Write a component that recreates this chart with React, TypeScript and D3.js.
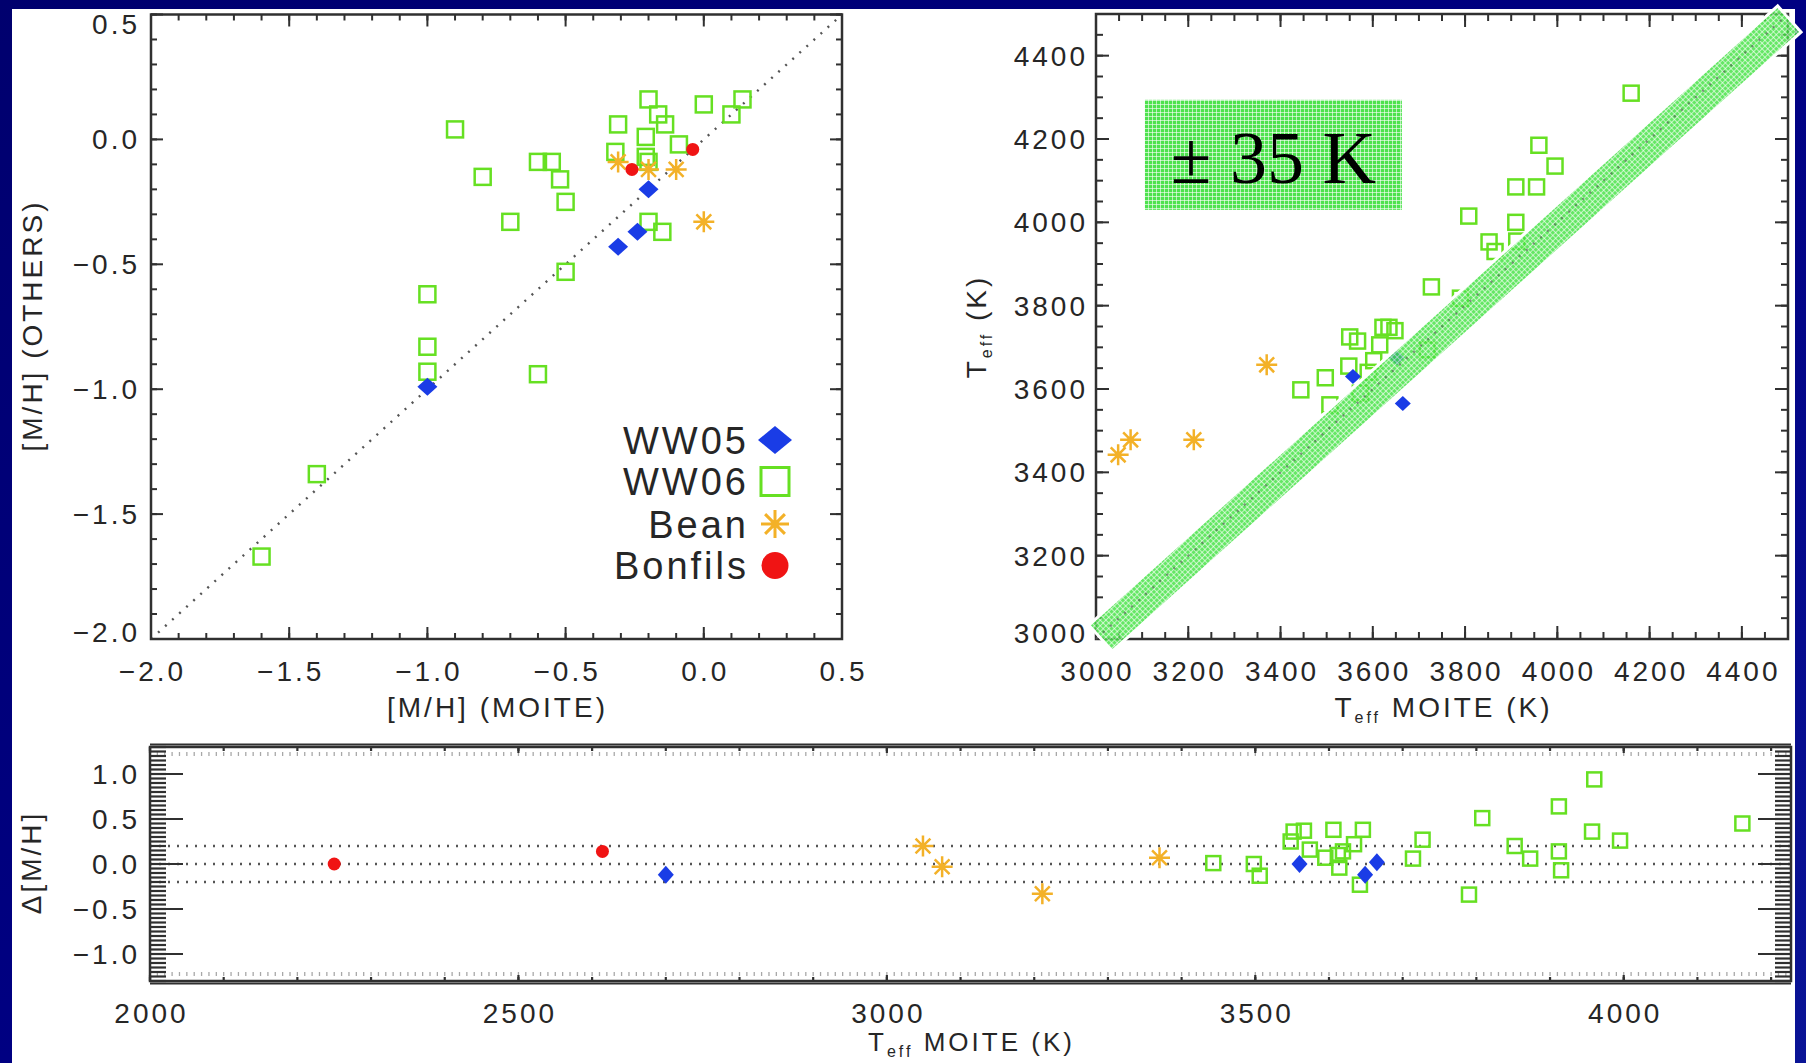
import React from 'react';
import * as d3 from 'd3';

// ---------------- DATA ----------------
// Panel 1: [M/H] MOITE vs [M/H] OTHERS
const mhWW05 = [[-1.0, -0.99], [-0.31, -0.43], [-0.24, -0.37], [-0.2, -0.2]];
const mhWW06 = [
  [-0.9, 0.04], [-0.8, -0.15], [-0.6, -0.09], [-0.55, -0.09], [-0.52, -0.16], [-0.5, -0.25],
  [-0.7, -0.33], [-0.5, -0.53], [-1.0, -0.62], [-1.0, -0.83], [-1.0, -0.93], [-0.6, -0.94],
  [-0.31, 0.06], [-0.2, 0.16], [-0.165, 0.1], [-0.14, 0.06], [-0.21, 0.01], [-0.32, -0.05],
  [-0.21, -0.07], [-0.2, -0.09], [-0.09, -0.02], [0.0, 0.14], [0.1, 0.1], [0.14, 0.16],
  [-0.2, -0.33], [-0.15, -0.37], [-1.4, -1.34], [-1.6, -1.67],
];
const mhBean = [[-0.31, -0.09], [-0.2, -0.12], [-0.1, -0.12], [0.0, -0.33]];
const mhBonfils = [[-0.26, -0.12], [-0.04, -0.04]];

// Panel 2: Teff MOITE vs Teff others
const tWW05 = [[3557, 3630], [3652, 3675], [3665, 3565]];
const tWW06 = [
  [4160, 4310], [3960, 4185], [3995, 4135], [3910, 4085], [3955, 4085], [3808, 4015],
  [3910, 4000], [3852, 3953], [3865, 3930], [3912, 3955], [3727, 3845], [3790, 3818],
  [3550, 3725], [3567, 3715], [3622, 3748], [3635, 3748], [3648, 3740], [3615, 3706],
  [3718, 3694], [3548, 3655], [3602, 3668], [3497, 3627], [3444, 3598], [3507, 3562],
  [3573, 3590], [3590, 3640],
];
const tBean = [[3048, 3442], [3075, 3478], [3212, 3478], [3370, 3658]];
const tBandEnds = [[3010, 3002], [4503, 4488]];
const tBoxCorners = [[3106, 4294], [3663, 4030]];
const tBoxText = '± 35 K';

// Panel 3: Teff MOITE vs Delta [M/H]
const dWW05 = [[2700, -0.12], [3560, 0.0], [3649, -0.12], [3665, 0.02]];
const dWW06 = [
  [3443, 0.01], [3498, 0.0], [3506, -0.13], [3548, 0.25], [3552, 0.36], [3566, 0.37],
  [3574, 0.16], [3595, 0.07], [3606, 0.38], [3614, -0.04], [3619, 0.14], [3612, 0.1],
  [3634, 0.22], [3646, 0.38], [3642, -0.23], [3714, 0.06], [3727, 0.27], [3808, 0.51],
  [3790, -0.34], [3852, 0.2], [3873, 0.06], [3912, 0.64], [3912, 0.14], [3915, -0.07],
  [3960, 0.94], [3957, 0.36], [3995, 0.26], [4161, 0.45],
];
const dBean = [[3049, 0.2], [3075, -0.03], [3211, -0.33], [3370, 0.07]];
const dBonfils = [[2250, 0.0], [2614, 0.14]];
const dRefLines = [0.2, 0.0, -0.2];

const legendNames = ['WW05', 'WW06', 'Bean', 'Bonfils'];

// tick definitions
const p1Major = [-2.0, -1.5, -1.0, -0.5, 0.0, 0.5];
const p1Minor = d3.range(0, 26).map((i) => -2 + i * 0.1);
const p2Major = [3000, 3200, 3400, 3600, 3800, 4000, 4200, 4400];
const p2Minor = d3.range(0, 31).map((i) => 3000 + i * 50);
const p3XMajor = [2000, 2500, 3000, 3500, 4000];
const p3XMinor = d3.range(0, 23).map((i) => 2000 + i * 100);
const p3XFine = d3.range(0, 223).map((i) => 2000 + i * 10);
const p3YMajor = [-1.0, -0.5, 0.0, 0.5, 1.0];
const p3YMinor = d3.range(0, 53).map((i) => -1.3 + i * 0.05);

// ---------------- STYLE ----------------
const W = 1806;
const H = 1063;
const FONT = "'Liberation Sans', Arial, Helvetica, sans-serif";
const TXT = '#262626';
const AX = '#303030';
const C_BLUE = '#1a3ce6';
const C_GREEN = '#66e022';
const C_ORANGE = '#f3b128';
const C_RED = '#f01414';
const TS = 28; // tick font size
const TLS = 3; // tick letter spacing

const fmt1 = (v: number) => {
  const s = Math.abs(v).toFixed(1);
  return v < -1e-9 ? '\u2212' + s : s;
};

function Txt({ x, y, text, anchor = 'middle', size = TS, ls = TLS, rotate = 0, children }: any) {
  const shift = anchor === 'end' ? ls : anchor === 'middle' ? ls / 2 : 0;
  const t = rotate ? `rotate(${rotate},${x},${y})` : undefined;
  return (
    <text
      x={x + shift}
      y={y}
      transform={t}
      textAnchor={anchor}
      fontFamily={FONT}
      fontSize={size}
      letterSpacing={ls}
      fill={TXT}
    >
      {children ?? text}
    </text>
  );
}

function Teff({ rest }: { rest: string }) {
  return (
    <>
      <tspan>T</tspan>
      <tspan fontSize={16} dy={6}>eff</tspan>
      <tspan dy={-6}>{rest}</tspan>
    </>
  );
}

function Ticks({ x, y, xMaj, xMin, yMaj, yMin, xMajLen, xMinLen, yMajLen, yMinLen, sw = 2 }: any) {
  const [x0, x1] = x.range();
  const [y0, y1] = y.range(); // y0 bottom, y1 top
  const inX = (v: number) => v >= Math.min(...x.domain()) - 1e-9 && v <= Math.max(...x.domain()) + 1e-9;
  const inY = (v: number) => v >= Math.min(...y.domain()) - 1e-9 && v <= Math.max(...y.domain()) + 1e-9;
  const lines: any[] = [];
  const addX = (vals: number[], len: number, key: string) =>
    vals.filter(inX).forEach((v, i) => {
      const px = x(v);
      lines.push(<line key={key + 'b' + i} x1={px} x2={px} y1={y0} y2={y0 - len} />);
      lines.push(<line key={key + 't' + i} x1={px} x2={px} y1={y1} y2={y1 + len} />);
    });
  const addY = (vals: number[], len: number, key: string) =>
    vals.filter(inY).forEach((v, i) => {
      const py = y(v);
      lines.push(<line key={key + 'l' + i} x1={x0} x2={x0 + len} y1={py} y2={py} />);
      lines.push(<line key={key + 'r' + i} x1={x1} x2={x1 - len} y1={py} y2={py} />);
    });
  addX(xMin, xMinLen, 'xm');
  addX(xMaj, xMajLen, 'xM');
  addY(yMin, yMinLen, 'ym');
  addY(yMaj, yMajLen, 'yM');
  return (
    <g stroke={AX} strokeWidth={sw}>
      {lines}
    </g>
  );
}

function Diamond({ cx, cy, w, h }: any) {
  return <path d={`M${cx},${cy - h}L${cx + w},${cy}L${cx},${cy + h}L${cx - w},${cy}Z`} fill={C_BLUE} />;
}
function Square({ cx, cy, s, sw = 2.5 }: any) {
  return <rect x={cx - s / 2} y={cy - s / 2} width={s} height={s} fill="none" stroke={C_GREEN} strokeWidth={sw} />;
}
function Star({ cx, cy, r, sw = 2.5 }: any) {
  const d = r * Math.SQRT1_2;
  return (
    <path
      d={`M${cx - r},${cy}H${cx + r}M${cx},${cy - r}V${cy + r}M${cx - d},${cy - d}L${cx + d},${cy + d}M${cx - d},${cy + d}L${cx + d},${cy - d}`}
      stroke={C_ORANGE}
      strokeWidth={sw}
      fill="none"
    />
  );
}
function Dot({ cx, cy, r }: any) {
  return <circle cx={cx} cy={cy} r={r} fill={C_RED} />;
}

export default function App() {
  // Panel 1 scales
  const x1 = d3.scaleLinear().domain([-2, 0.5]).range([151, 842]);
  const y1 = d3.scaleLinear().domain([-2, 0.5]).range([639, 14.5]);
  // Panel 2 scales
  const x2 = d3.scaleLinear().domain([3000, 4500]).range([1096, 1788]);
  const y2 = d3.scaleLinear().domain([3000, 4500]).range([639, 14]);
  // Panel 3 scales
  const x3 = d3.scaleLinear().domain([2000, 4227]).range([150, 1791]);
  const y3 = d3.scaleLinear().domain([-1.3, 1.3]).range([981, 747]);

  // band geometry (pixel space from data ends)
  const bp0 = [x2(tBandEnds[0][0]), y2(tBandEnds[0][1])];
  const bp1 = [x2(tBandEnds[1][0]), y2(tBandEnds[1][1])];
  const dx = bp1[0] - bp0[0];
  const dy = bp1[1] - bp0[1];
  const L = Math.hypot(dx, dy);
  const nx = (-dy / L) * 17.5;
  const ny = (dx / L) * 17.5;
  const bandPts = [
    [bp0[0] + nx, bp0[1] + ny],
    [bp1[0] + nx, bp1[1] + ny],
    [bp1[0] - nx, bp1[1] - ny],
    [bp0[0] - nx, bp0[1] - ny],
  ];
  const bandPath = 'M' + bandPts.map((p) => p.join(',')).join('L') + 'Z';

  const bx0 = x2(tBoxCorners[0][0]);
  const by0 = y2(tBoxCorners[0][1]);
  const bx1 = x2(tBoxCorners[1][0]);
  const by1 = y2(tBoxCorners[1][1]);

  const legendY = [440, 481.5, 524, 565.5];
  const legendTextX = 746;
  const legendSymX = 775;

  return (
    <svg
      width={W}
      height={H}
      viewBox={`0 0 ${W} ${H}`}
      style={{ position: 'absolute', left: 0, top: 0, display: 'block' }}
    >
      <defs>
        <linearGradient id="bg" x1="0" y1="0" x2="1" y2="1">
          <stop offset="0" stopColor="#00006e" />
          <stop offset="0.5" stopColor="#000082" />
          <stop offset="1" stopColor="#0a1496" />
        </linearGradient>
        <pattern id="mesh" width="4" height="4" patternUnits="userSpaceOnUse">
          <rect width="4" height="4" fill="#4ee24e" />
          <path d="M0,0.5H4M0.5,0V4" stroke="#ffffff" strokeOpacity="0.6" strokeWidth="1" />
        </pattern>
        <pattern id="mesh45" width="4" height="4" patternUnits="userSpaceOnUse" patternTransform="rotate(45)">
          <rect width="4" height="4" fill="#42e242" />
          <path d="M0,0.5H4M0.5,0V4" stroke="#ffffff" strokeOpacity="0.6" strokeWidth="1" />
        </pattern>
      </defs>

      {/* background */}
      <rect x={0} y={0} width={W} height={H} fill="url(#bg)" />
      <rect x={12} y={9} width={1783} height={H - 9} fill="#ffffff" />

      {/* ================= PANEL 1 ================= */}
      <g>
        <line
          x1={x1(-2)} y1={y1(-2)} x2={x1(0.5)} y2={y1(0.5)}
          stroke="#555" strokeWidth={2.4} strokeDasharray="2 7.5"
        />
        {mhWW06.map((d, i) => <Square key={'a' + i} cx={x1(d[0])} cy={y1(d[1])} s={16} />)}
        {mhBean.map((d, i) => <Star key={'b' + i} cx={x1(d[0])} cy={y1(d[1])} r={10.5} />)}
        {mhBonfils.map((d, i) => <Dot key={'c' + i} cx={x1(d[0])} cy={y1(d[1])} r={6.5} />)}
        {mhWW05.map((d, i) => <Diamond key={'d' + i} cx={x1(d[0])} cy={y1(d[1])} w={10} h={9} />)}

        <rect x={151} y={14.5} width={691} height={624.5} fill="none" stroke={AX} strokeWidth={2.5} />
        <Ticks x={x1} y={y1} xMaj={p1Major} xMin={p1Minor} yMaj={p1Major} yMin={p1Minor}
          xMajLen={12} xMinLen={6} yMajLen={12} yMinLen={6} />

        {p1Major.map((v, i) => (
          <Txt key={'x1' + i} x={x1(v)} y={681} text={fmt1(v)} anchor="middle" />
        ))}
        {p1Major.map((v, i) => (
          <Txt key={'y1' + i} x={137} y={y1(v) + 10 + (i === p1Major.length - 1 ? 9 : i === 0 ? -7 : 0)}
            text={fmt1(v)} anchor="end" />
        ))}
        <Txt x={496} y={717} text="[M/H] (MOITE)" anchor="middle" />
        <Txt x={42} y={327} text="[M/H]  (OTHERS)" anchor="middle" rotate={-90} />

        {/* legend */}
        {legendNames.map((n, i) => (
          <Txt key={'lg' + i} x={legendTextX} y={legendY[i] + 13.5} text={n} anchor="end" size={38} ls={3} />
        ))}
        <Diamond cx={legendSymX} cy={legendY[0]} w={17} h={14} />
        <Square cx={legendSymX} cy={legendY[1]} s={28} sw={3} />
        <Star cx={legendSymX} cy={legendY[2]} r={14} sw={3} />
        <Dot cx={legendSymX} cy={legendY[3]} r={13.5} />
      </g>

      {/* ================= PANEL 2 ================= */}
      <g>
        <line
          x1={x2(3000)} y1={y2(3000)} x2={x2(4500)} y2={y2(4500)}
          stroke="#555" strokeWidth={2.4} strokeDasharray="2 7.5"
        />
        {tWW06.map((d, i) => <Square key={'e' + i} cx={x2(d[0])} cy={y2(d[1])} s={15} />)}
        {tBean.map((d, i) => <Star key={'f' + i} cx={x2(d[0])} cy={y2(d[1])} r={10.5} />)}
        {tWW05.map((d, i) => <Diamond key={'g' + i} cx={x2(d[0])} cy={y2(d[1])} w={8} h={7.5} />)}

        <rect x={1096} y={14} width={692} height={625} fill="none" stroke={AX} strokeWidth={2.5} />
        <Ticks x={x2} y={y2} xMaj={p2Major} xMin={p2Minor} yMaj={p2Major} yMin={p2Minor}
          xMajLen={13} xMinLen={7} yMajLen={13} yMinLen={7} />

        {/* +/- band */}
        <path d={bandPath} fill="url(#mesh45)" fillOpacity={0.82} stroke="#ffffff" strokeWidth={3} />
        <line
          x1={x2(3000)} y1={y2(3000)} x2={x2(4500)} y2={y2(4500)}
          stroke="#666" strokeOpacity={0.6} strokeWidth={2.2} strokeDasharray="2 7.5"
        />

        <rect x={bx0} y={by0} width={bx1 - bx0} height={by1 - by0} fill="url(#mesh)" />
        <text
          x={(bx0 + bx1) / 2}
          y={183}
          textAnchor="middle"
          fontFamily="'Liberation Serif', 'Times New Roman', serif"
          fontSize={74}
          fill="#000"
        >
          {tBoxText}
        </text>

        {p2Major.map((v, i) => (
          <Txt key={'x2' + i} x={x2(v)} y={681} text={String(v)} anchor="middle" />
        ))}
        {p2Major.map((v, i) => (
          <Txt key={'y2' + i} x={1085} y={y2(v) + 10 + (i === 0 ? -6 : 0)} text={String(v)} anchor="end" />
        ))}
        <Txt x={1442} y={717} anchor="middle"><Teff rest=" MOITE (K)" /></Txt>
        <Txt x={986} y={328} anchor="middle" rotate={-90}><Teff rest="  (K)" /></Txt>
      </g>

      {/* ================= PANEL 3 ================= */}
      <g>
        {dRefLines.map((v, i) => (
          <line key={'r' + i} x1={150} x2={1791} y1={y3(v)} y2={y3(v)}
            stroke="#555" strokeWidth={2.4} strokeDasharray="2 7" />
        ))}
        {dWW06.map((d, i) => <Square key={'h' + i} cx={x3(d[0])} cy={y3(d[1])} s={14} />)}
        {dBean.map((d, i) => <Star key={'k' + i} cx={x3(d[0])} cy={y3(d[1])} r={10.5} />)}
        {dBonfils.map((d, i) => <Dot key={'m' + i} cx={x3(d[0])} cy={y3(d[1])} r={6.5} />)}
        {dWW05.map((d, i) => <Diamond key={'n' + i} cx={x3(d[0])} cy={y3(d[1])} w={8} h={9} />)}

        {/* fine ticks */}
        <g stroke="#a8a8a8" strokeWidth={1.3}>
          {p3XFine.filter((v) => v <= 4227).map((v, i) => (
            <g key={'fi' + i}>
              <line x1={x3(v)} x2={x3(v)} y1={752} y2={756} />
              <line x1={x3(v)} x2={x3(v)} y1={976} y2={972} />
            </g>
          ))}
        </g>
        <rect x={150} y={747} width={1641} height={234} fill="none" stroke={AX} strokeWidth={2.5} />
        <line x1={150} x2={1791} y1={744.5} y2={744.5} stroke={AX} strokeWidth={2} />
        <line x1={150} x2={1791} y1={983.5} y2={983.5} stroke={AX} strokeWidth={2} />
        <Ticks x={x3} y={y3} xMaj={p3XMajor} xMin={p3XMinor} yMaj={p3YMajor} yMin={p3YMinor}
          xMajLen={6} xMinLen={4} yMajLen={33} yMinLen={16} sw={2.2} />

        {p3XMajor.map((v, i) => (
          <Txt key={'x3' + i} x={x3(v)} y={1023} text={String(v)} anchor="middle" />
        ))}
        {p3YMajor.map((v, i) => (
          <Txt key={'y3' + i} x={137} y={y3(v) + 10} text={fmt1(v)} anchor="end" />
        ))}
        <Txt x={970} y={1051} anchor="middle" size={26}><Teff rest=" MOITE (K)" /></Txt>
        <Txt x={41} y={864} text="Δ[M/H]" anchor="middle" rotate={-90} />
      </g>
    </svg>
  );
}
